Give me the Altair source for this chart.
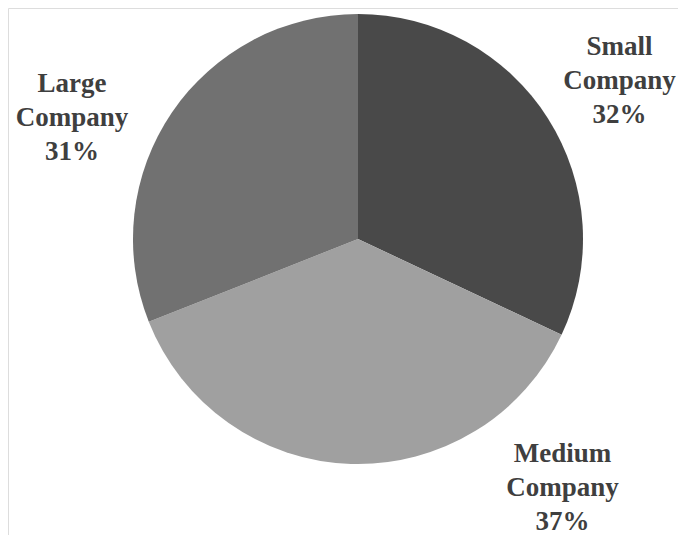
import altair as alt
import pandas as pd

categories = ["Small Company", "Medium Company", "Large Company"]
shares = [32, 37, 31]
order = [1, 2, 3]
colors = ["#494949", "#a0a0a0", "#717171"]

df = pd.DataFrame({"category": categories, "share": shares, "order": order})
df["label"] = df.apply(lambda r: r["category"].split(" ") + [f"{r['share']}%"], axis=1)

base = alt.Chart(df)

pie = base.mark_arc(outerRadius=225, strokeWidth=0).encode(
    theta=alt.Theta("share:Q", stack=True),
    order=alt.Order("order:Q"),
    color=alt.Color("category:N", scale=alt.Scale(domain=categories, range=colors), legend=None),
    x=alt.value(350),
    y=alt.value(231),
)

label_pos = {"Small Company": (611.5, 47), "Medium Company": (554.5, 454), "Large Company": (64, 84)}

layers = [pie]
for cat in categories:
    px, py = label_pos[cat]
    layers.append(
        base.transform_filter(alt.datum.category == cat)
        .mark_text(font="Liberation Serif", fontWeight="bold", fontSize=27,
                   color="#3f3f3f", align="center", baseline="alphabetic", lineHeight=34)
        .encode(text="label", x=alt.value(px), y=alt.value(py))
    )

chart = alt.layer(*layers).properties(
    width=670, height=527, padding=0, autosize=alt.AutoSizeParams(type="none")
).configure_view(stroke="transparent", strokeWidth=0).configure(background="white")

chart.save("out.html", embed_options={"renderer": "svg", "actions": False})
